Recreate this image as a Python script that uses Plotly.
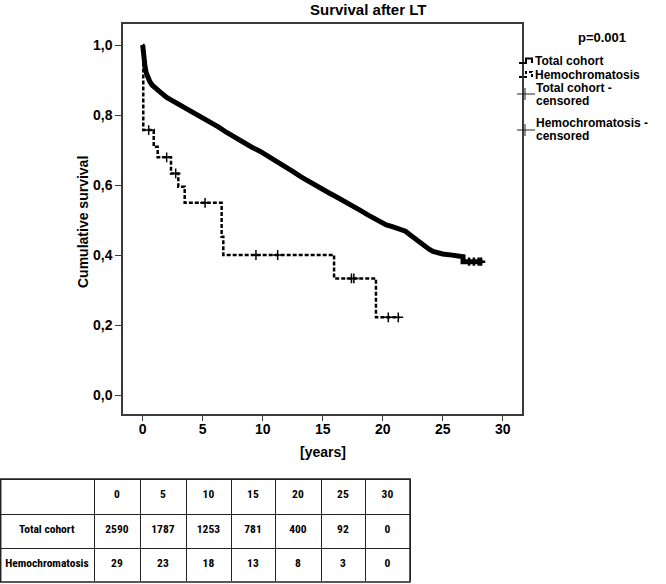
import plotly.graph_objects as go

W, H = 666, 584

# ---------------- data ----------------
total_t = [0, 0.05, 0.1, 0.2, 0.3, 0.45, 0.6, 0.8, 1.0, 1.44, 2.0, 2.8, 3.5, 4.2, 5.0, 5.6,
           6.3, 7.0, 7.7, 8.4, 9.1, 9.8, 10.5, 11.2, 11.9, 12.5, 13.2, 14.0, 14.8, 15.5,
           16.2, 16.7, 17.4, 18.1, 18.8, 19.5, 20.0, 20.3, 20.8, 21.4, 21.9, 22.3, 22.8,
           23.4, 23.9, 24.2, 24.6, 25.0, 25.5, 26.0, 26.7, 26.7, 27.0, 27.5, 28.0, 28.3]
total_s = [1.0, 0.975, 0.96, 0.937, 0.92, 0.905, 0.895, 0.885, 0.878, 0.866, 0.85, 0.835,
           0.821, 0.806, 0.793, 0.781, 0.766, 0.75, 0.735, 0.721, 0.708, 0.696, 0.682,
           0.668, 0.653, 0.639, 0.623, 0.606, 0.591, 0.578, 0.565, 0.556, 0.543, 0.528,
           0.514, 0.50, 0.49, 0.486, 0.481, 0.475, 0.468, 0.457, 0.443, 0.43, 0.416, 0.41,
           0.405, 0.403, 0.401, 0.399, 0.395, 0.381, 0.381, 0.381, 0.381, 0.381]
total_cens_t = [27.2, 27.6, 28.0, 28.2]
total_cens_s = [0.381, 0.381, 0.381, 0.381]

hemo_t = [0, 0.05, 0.92, 1.25, 2.36, 2.97, 3.5, 6.58, 6.72, 15.95, 19.44, 21.4]
hemo_s = [1.0, 0.757, 0.709, 0.679, 0.633, 0.595, 0.549, 0.452, 0.40, 0.333, 0.222, 0.222]
hemo_cens_t = [0.5, 2.0, 2.75, 5.2, 9.44, 11.25, 17.4, 17.6, 20.47, 21.3]
hemo_cens_s = [0.757, 0.679, 0.633, 0.549, 0.40, 0.40, 0.333, 0.333, 0.222, 0.222]

x_ticks = [0, 5, 10, 15, 20, 25, 30]
y_ticks = [0.0, 0.2, 0.4, 0.6, 0.8, 1.0]
y_tick_labels = ["0,0", "0,2", "0,4", "0,6", "0,8", "1,0"]

table_header = ["", "0", "5", "10", "15", "20", "25", "30"]
table_rows = ["Total cohort", "Hemochromatosis"]
at_risk_total = [2590, 1787, 1253, 781, 400, 92, 0]
at_risk_hemo = [29, 23, 18, 13, 8, 3, 0]

title_text = "Survival after LT"
p_text = "p=0.001"
legend_lines = ["Total cohort", "Hemochromatosis", "Total cohort -", "censored",
                "Hemochromatosis -", "censored"]

# ---------------- helpers ----------------
def X(px):
    return px / W

def Y(py):
    return 1 - py / H

FONT = "Liberation Sans, Arial, sans-serif"
TFONT = "Liberation Sans Narrow, Roboto Condensed, Roboto, sans-serif"
FRAME = "#3a3a3a"

fig = go.Figure()

fig.add_trace(go.Scatter(x=total_t, y=total_s, mode="lines",
                         line=dict(color="black", width=5), showlegend=False,
                         hoverinfo="skip"))
fig.add_trace(go.Scatter(x=hemo_t, y=hemo_s, mode="lines", line_shape="hv",
                         line=dict(color="black", width=2.5, dash="4px,2px"),
                         showlegend=False, hoverinfo="skip"))
fig.add_trace(go.Scatter(x=total_cens_t, y=total_cens_s, mode="markers",
                         marker=dict(symbol="cross-thin", size=6,
                                     line=dict(color="black", width=2.5)),
                         showlegend=False, hoverinfo="skip"))
fig.add_trace(go.Scatter(x=hemo_cens_t, y=hemo_cens_s, mode="markers",
                         marker=dict(symbol="cross-thin", size=7,
                                     line=dict(color="black", width=1.5)),
                         showlegend=False, hoverinfo="skip"))

# at-risk table
col_widths = [94, 46, 46, 45, 44, 46, 44, 45]
cell_cols = [[f"<b>{r}</b>" for r in table_rows]]
for a, b in zip(at_risk_total, at_risk_hemo):
    cell_cols.append([f"<b>{a}</b>", f"<b>{b}</b>"])
fig.add_trace(go.Table(
    domain=dict(x=[0, X(410)], y=[Y(582), Y(479)]),
    columnwidth=col_widths,
    header=dict(values=[f"<b>{h}</b>" for h in table_header], height=35, align="center",
                line=dict(color="#222", width=1), fill_color="white",
                font=dict(family=TFONT, size=11.5, color="black")),
    cells=dict(values=cell_cols, height=34, align="center",
               line=dict(color="#222", width=1), fill_color="white",
               font=dict(family=TFONT, size=11.5, color="black")),
))

# ---------------- layout ----------------
fig.update_layout(
    width=W, height=H,
    margin=dict(l=0, r=0, t=0, b=0),
    paper_bgcolor="white", plot_bgcolor="white",
    font=dict(family=FONT, color="black"),
    xaxis=dict(domain=[X(123), X(521.5)], range=[-1.64, 31.57], tickvals=x_ticks,
               ticktext=[f"<b>{v}</b>" for v in x_ticks], ticks="outside", ticklen=5,
               ticklabelstandoff=-4,
               tickcolor=FRAME, tickwidth=1.2, showline=True, linecolor=FRAME,
               linewidth=1.5, mirror=True, showgrid=False, zeroline=False,
               tickfont=dict(size=14, family=FONT), automargin=False, fixedrange=True),
    yaxis=dict(domain=[Y(414), Y(24)], range=[-0.0543, 1.06], tickvals=y_ticks,
               ticktext=[f"<b>{v}</b>" for v in y_tick_labels], ticks="outside", ticklen=6,
               tickcolor=FRAME, tickwidth=1.2, showline=True, linecolor=FRAME,
               linewidth=1.5, mirror=True, showgrid=False, zeroline=False,
               tickfont=dict(size=14, family=FONT), automargin=False, fixedrange=True),
)

ann = []
ann.append(dict(text=f"<b>{title_text}</b>", x=X(368), y=Y(9.5), xref="paper", yref="paper",
                showarrow=False, font=dict(size=15, family=FONT), xanchor="center",
                yanchor="middle"))
ann.append(dict(text="<b>[years]</b>", x=X(322.5), y=Y(452), xref="paper", yref="paper",
                showarrow=False, font=dict(size=14, family=FONT), xanchor="center",
                yanchor="middle"))
ann.append(dict(text="<b>Cumulative survival</b>", x=X(83), y=Y(222), xref="paper",
                yref="paper", showarrow=False, textangle=-90,
                font=dict(size=14, family=FONT), xanchor="center", yanchor="middle"))
ann.append(dict(text=f"<b>{p_text}</b>", x=X(602), y=Y(37.5), xref="paper", yref="paper",
                showarrow=False, font=dict(size=13, family=FONT), xanchor="center",
                yanchor="middle"))

# legend texts
leg_pos = [(534, 61), (534, 75), (535, 88), (535, 100.5), (535, 123), (535, 135.5)]
for lab, (lx, ly) in zip(legend_lines, leg_pos):
    ann.append(dict(text=f"<b>{lab}</b>", x=X(lx), y=Y(ly), xref="paper", yref="paper",
                    showarrow=False, font=dict(size=12, family=FONT), xanchor="left",
                    yanchor="middle", align="left", borderpad=0))
fig.update_layout(annotations=ann)

def path(points):
    return "M " + " L ".join(f"{X(a):.5f},{Y(b):.5f}" for a, b in points)

shapes = []
shapes.append(dict(type="path", xref="paper", yref="paper",
                   path=path([(519, 63), (526, 63), (526, 58.5), (532, 58.5), (532, 63)]),
                   line=dict(color="black", width=2)))
shapes.append(dict(type="path", xref="paper", yref="paper",
                   path=path([(519, 77), (526, 77), (526, 72), (532, 72), (532, 77)]),
                   line=dict(color="black", width=2, dash="3px,2px")))
for cy in (94, 130):
    shapes.append(dict(type="line", xref="paper", yref="paper", x0=X(517), x1=X(535),
                       y0=Y(cy), y1=Y(cy), line=dict(color="#222", width=1)))
    shapes.append(dict(type="line", xref="paper", yref="paper", x0=X(525), x1=X(525),
                       y0=Y(cy - 6), y1=Y(cy + 6), line=dict(color="#222", width=1)))
shapes.append(dict(type="rect", xref="paper", yref="paper", x0=X(0.7), x1=X(410),
                   y0=Y(582), y1=Y(479), line=dict(color="#222", width=1.5)))
fig.update_layout(shapes=shapes)

fig.write_html("out.html", config={"displayModeBar": False},
               post_script="document.body.style.margin='0';document.body.style.padding='0';"
                           "document.body.style.overflow='hidden';")
